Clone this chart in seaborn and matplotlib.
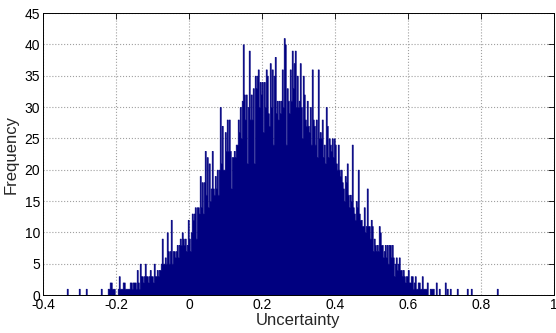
import numpy as np
import pandas as pd
import matplotlib
matplotlib.use("Agg")
import matplotlib.pyplot as plt
import seaborn as sns

# Histogram, one bin per pixel column (~0.00274 wide)
bin_start = -0.335
bin_width = 1.4 / 511

counts_left_tail = [1, 0, 0, 0, 0, 0, 0, 0, 0, 0, 0, 0, 1, 0, 0, 0, 0, 0, 0, 1,
                    0, 0, 0, 0, 0, 0, 0, 0, 0, 0, 0, 0, 0, 0, 1, 0, 0, 0, 0, 0,
                    0]
counts_rising = [1, 1, 2, 2, 1, 1, 1, 0, 0, 0,
                 1, 3, 1, 1, 1, 2, 2, 1, 1, 1,
                 1, 1, 2, 2, 1, 2, 2, 2, 1, 4,
                 2, 1, 5, 3, 3, 2, 3, 5, 3, 3,
                 2, 3, 4, 3, 3, 2, 5, 3, 3, 4,
                 3, 4, 4, 5, 9, 5, 5, 6, 5, 10,
                 7, 5, 7, 12, 5, 7, 7, 6, 7, 8,
                 6, 8, 9, 8, 10, 9, 8, 9, 7, 8,
                 12, 9]
counts_upper = [7, 10, 13, 12, 13, 14, 9, 14, 14, 13,
                19, 14, 18, 13, 18, 23, 16, 22, 14, 21,
                15, 17, 23, 17, 16, 19, 17, 20, 16, 20,
                30, 21, 27, 20, 20, 26, 23, 28, 23, 28,
                23, 17, 22, 22, 23, 22, 24, 24, 28, 26,
                30, 25, 31, 40, 32, 28, 32, 21, 30, 39,
                28, 32, 28, 33, 21, 35, 33, 35, 36, 30,
                34, 32, 34, 26, 34, 30, 36, 35, 29, 27,
                37, 30, 36, 24, 35, 38, 29, 31, 28, 31]
counts_falling = [29, 31, 36, 30, 41, 40, 24, 33, 31, 29,
                  36, 31, 39, 33, 37, 39, 30, 35, 30, 31,
                  37, 30, 25, 35, 32, 28, 27, 31, 27, 26,
                  30, 24, 36, 28, 27, 24, 28, 22, 36, 25,
                  26, 25, 28, 22, 24, 21, 30, 27, 22, 25,
                  24, 23, 25, 22, 25, 24, 21, 20, 24, 20,
                  19, 20, 18, 17, 15, 19, 18, 21, 16, 14,
                  16, 15, 24, 14, 13, 12, 15, 14, 20, 13,
                  12, 12, 11, 11, 14, 10, 11, 17, 11, 11]
counts_right_tail = [9, 12, 11, 7, 9, 8, 7, 8, 7, 11,
                     10, 8, 8, 6, 7, 8, 6, 8, 5, 8,
                     8, 6, 8, 6, 3, 5, 6, 4, 5, 6,
                     4, 4, 3, 4, 3, 2, 3, 3, 4, 2,
                     2, 3, 3, 1, 2, 3, 1, 1, 2, 2,
                     1, 1, 3, 1, 1, 1, 1, 2, 0, 0,
                     1, 1, 1, 1, 0, 0, 2, 0, 0, 1,
                     0, 0, 0, 0, 0, 2, 0, 1, 0, 0,
                     1, 0, 0, 0, 0, 0, 0, 1, 0, 0,
                     0, 0, 0, 0, 0, 0, 0, 1, 0, 0,
                     0, 1, 0, 0, 0, 0, 0, 0, 0, 0,
                     0, 0, 0, 0, 0, 0, 0, 0, 0, 0,
                     0, 0, 0, 0, 0, 0, 0, 1]

x_ticks = [-0.4, -0.2, 0, 0.2, 0.4, 0.6, 0.8, 1]
x_labels = ["-0.4", "-0.2", "0", "0.2", "0.4", "0.6", "0.8", "1"]
y_ticks = list(range(0, 50, 5))

counts = counts_left_tail + counts_rising + counts_upper + counts_falling + counts_right_tail
edges = bin_start + bin_width * np.arange(len(counts) + 1)
df = pd.DataFrame({"Uncertainty": edges[:-1] + bin_width / 2, "count": counts})

sns.set_style("white")
plt.rcParams['font.family'] = ['Liberation Sans', 'DejaVu Sans']

fig = plt.figure(figsize=(5.56, 3.33), dpi=100)
ax = fig.add_axes([0.0773, 0.1141, 0.9191, 0.8468])

sns.histplot(data=df, x="Uncertainty", weights="count", bins=edges.tolist(),
             element="step", fill=True, color="#000080", alpha=1,
             linewidth=0.5, edgecolor="#000080", ax=ax)

ax.set_xlim(-0.4, 1)
ax.set_ylim(0, 45)
ax.set_xticks(x_ticks)
ax.set_xticklabels(x_labels, fontsize=10)
ax.set_yticks(y_ticks)
ax.set_yticklabels([str(t) for t in y_ticks], fontsize=10)
ax.grid(True, linestyle=":", color="#a0a0a0", linewidth=0.8)
ax.set_axisbelow(True)
ax.tick_params(direction="in", length=4, width=0.6, top=True, right=True,
               pad=2, colors="black")
for s in ax.spines.values():
    s.set_visible(True)
    s.set_color("black")
    s.set_linewidth(0.7)
ax.set_xlabel("Uncertainty", fontsize=12, labelpad=1)
ax.set_ylabel("Frequency", fontsize=12, labelpad=4)

fig.savefig("out.png", dpi=100)
